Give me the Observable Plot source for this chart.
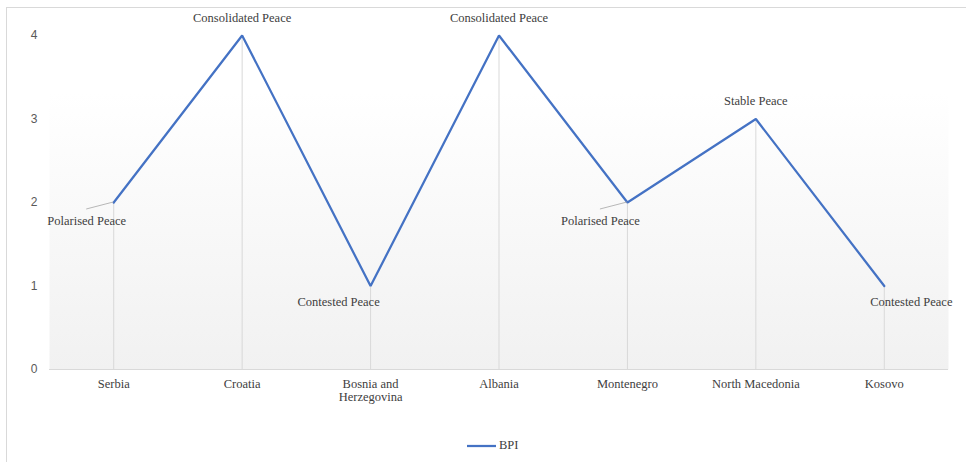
<!DOCTYPE html>
<html>
<head>
<meta charset="utf-8">
<script src="https://cdn.jsdelivr.net/npm/d3@7"></script>
<script src="https://cdn.jsdelivr.net/npm/@observablehq/plot@0.6"></script>
<style>
  html, body { margin: 0; padding: 0; background: #fff; overflow: hidden; width: 966px; height: 462px; }
  #wrap { position: relative; width: 966px; height: 462px; }
  #border { position: absolute; left: 6px; top: 7px; width: 990px; height: 490px; border: 1px solid #d9d9d9; box-sizing: border-box; pointer-events: none; }
  #chart { position: absolute; left: 0; top: 0; }
  #chart svg text { font-family: 'Liberation Serif', 'Times New Roman', serif; }
  #chart svg text.sans, #chart svg g.sans text { font-family: 'Liberation Sans', Arial, sans-serif; }
  #legend { position: absolute; left: 467px; top: 438px; display: flex; align-items: center; font-family: 'Liberation Serif', 'Times New Roman', serif; font-size: 12.5px; color: #404040; }
</style>
</head>
<body>
<svg width="0" height="0" style="position:absolute">
  <defs>
    <linearGradient id="bg" x1="0" y1="0" x2="0" y2="1">
      <stop offset="0" stop-color="#ffffff"/>
      <stop offset="0.17" stop-color="#ffffff"/>
      <stop offset="1" stop-color="#f1f1f1"/>
    </linearGradient>
  </defs>
</svg>
<div id="wrap">
  <div id="chart"></div>
  <div id="border"></div>
  <div id="legend"><svg width="30" height="10"><line x1="0" y1="5" x2="29" y2="5" stroke="#4472C4" stroke-width="2.25"/></svg><span style="margin-left:2px">BPI</span></div>
</div>
<script>
const countries = ["Serbia", "Croatia", "Bosnia and Herzegovina", "Albania", "Montenegro", "North Macedonia", "Kosovo"];
const xTickLabels = ["Serbia", "Croatia", "Bosnia and\nHerzegovina", "Albania", "Montenegro", "North Macedonia", "Kosovo"];
const bpiValues = [2, 4, 1, 4, 2, 3, 1];
const peaceLabels = ["Polarised Peace", "Consolidated Peace", "Contested Peace", "Consolidated Peace", "Polarised Peace", "Stable Peace", "Contested Peace"];
const labelPlacement = ["belowLeftLeader", "above", "belowLeft", "above", "belowLeftLeader", "above", "belowRight"];
const yTicks = [0, 1, 2, 3, 4];

const data = countries.map((c, i) => ({
  country: c, tick: xTickLabels[i], value: bpiValues[i], label: peaceLabels[i], place: labelPlacement[i]
}));

const serif = "Liberation Serif";
const sans = "Liberation Sans";
const txt = "#404040";
const fs = 12.5;

const chart = Plot.plot({
  width: 966,
  height: 425,
  marginLeft: 49,
  marginRight: 18,
  marginTop: 35,
  marginBottom: 56,
  style: { fontSize: "12.5px", color: txt, background: "transparent", overflow: "visible" },
  x: { type: "point", domain: countries, padding: 0.5, round: false, axis: null },
  y: { domain: [0, 4], axis: null },
  marks: [
    Plot.frame({ fill: "url(#bg)", stroke: "none" }),
    Plot.ruleX(data, { x: "country", y1: 0, y2: "value", stroke: "#d9d9d9", strokeWidth: 1 }),
    Plot.ruleY([0], { stroke: "#d9d9d9", strokeWidth: 1 }),
    Plot.line(data, { x: "country", y: "value", stroke: "#4472C4", strokeWidth: 2.25, strokeLinejoin: "miter" }),
    Plot.text(yTicks, { y: d => d, frameAnchor: "left", dx: -12, textAnchor: "end", fontFamily: sans, fontSize: 12, fill: "#595959", className: "sans" }),
    Plot.text(data, { x: "country", y: 0, text: "tick", lineAnchor: "top", dy: 9, fill: txt, lineHeight: 1.05, fontFamily: serif, fontSize: fs }),
    Plot.text(data.filter(d => d.place === "above"), { x: "country", y: "value", text: "label", dy: -18, fill: txt, fontFamily: serif, fontSize: fs }),
    Plot.text(data.filter(d => d.place === "belowLeftLeader"), { x: "country", y: "value", text: "label", dx: -27, dy: 18, fill: txt, fontFamily: serif, fontSize: fs }),
    Plot.text(data.filter(d => d.place === "belowLeft"), { x: "country", y: "value", text: "label", dx: -32, dy: 16, fill: txt, fontFamily: serif, fontSize: fs }),
    Plot.text(data.filter(d => d.place === "belowRight"), { x: "country", y: "value", text: "label", dx: 27, dy: 16, fill: txt, fontFamily: serif, fontSize: fs })
  ]
});

// leader lines from labels to their points, positioned via the chart's scales
const xs = chart.scale("x"), ys = chart.scale("y");
const svg = d3.select(chart);
data.filter(d => d.place === "belowLeftLeader").forEach(d => {
  const px = xs.apply(d.country), py = ys.apply(d.value);
  svg.append("line")
    .attr("x1", px - 27).attr("y1", py + 7)
    .attr("x2", px).attr("y2", py)
    .attr("stroke", "#a6a6a6").attr("stroke-width", 0.8);
});

document.getElementById("chart").appendChild(chart);
</script>
</body>
</html>
